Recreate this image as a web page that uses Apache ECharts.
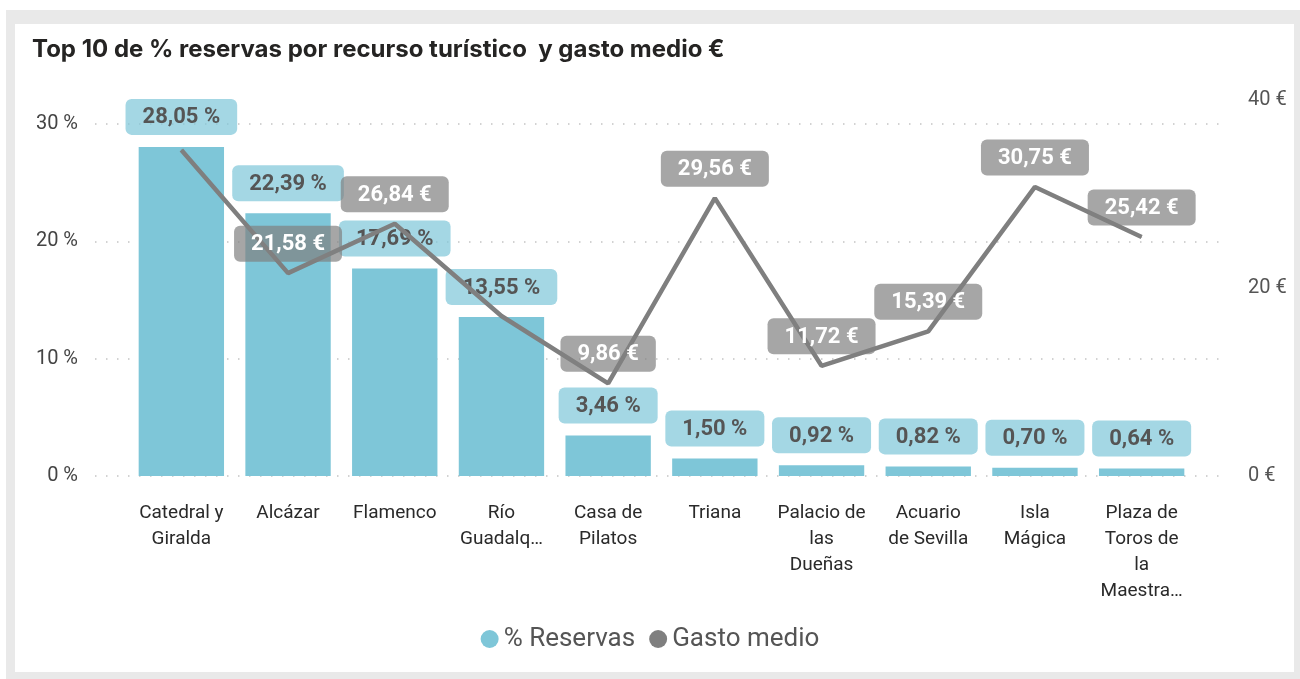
<!DOCTYPE html>
<html>
<head>
<meta charset="utf-8">
<script src="https://cdn.jsdelivr.net/npm/echarts@6/dist/echarts.min.js"></script>
<style>
  html, body { margin: 0; padding: 0; background: #fff; }
  #frame { position: absolute; left: 6px; top: 10px; width: 1294px; height: 669px; background: #e9e9e9; }
  #panel { position: absolute; left: 15px; top: 24px; width: 1279px; height: 648px; background: #fff; }
  #main { position: absolute; left: 0; top: 0; width: 1300px; height: 679px; }
</style>
</head>
<body>
<div id="frame"></div>
<div id="panel"></div>
<div id="main"></div>
<script>
// categorias (tal como se ven en el eje)
const categories = [
  'Catedral y\nGiralda', 'Alcázar', 'Flamenco', 'Río\nGuadalq…', 'Casa de\nPilatos',
  'Triana', 'Palacio de\nlas\nDueñas', 'Acuario\nde Sevilla', 'Isla\nMágica', 'Plaza de\nToros de\nla\nMaestra…'
];
// % reservas
const reservas = [28.05, 22.39, 17.69, 13.55, 3.46, 1.50, 0.92, 0.82, 0.70, 0.64];
// gasto medio €
const gasto = [34.68, 21.58, 26.84, 17.02, 9.86, 29.56, 11.72, 15.39, 30.75, 25.42];
// etiquetas de gasto ocultas (se solapan en el original)
const gastoSinEtiqueta = [0, 3];

const font = 'Roboto';
const fmt = v => v.toFixed(2).replace('.', ',');

const chart = echarts.init(document.getElementById('main'));

const option = {
  backgroundColor: 'transparent',
  title: {
    text: 'Top 10 de % reservas por recurso turístico  y gasto medio €',
    left: 32,
    top: 38,
    padding: 0,
    textStyle: { fontFamily: 'Inter', fontWeight: 'bold', fontSize: 24, color: '#252423' }
  },
  legend: {
    bottom: 22,
    left: 'center',
    icon: 'circle',
    itemWidth: 18,
    itemHeight: 18,
    itemGap: 14,
    textStyle: { fontFamily: font, fontSize: 26, color: '#555' },
    data: ['% Reservas', 'Gasto medio']
  },
  grid: [
    // marco de lineas de rejilla (mas ancho que la zona de barras)
    { left: 95, right: 78, top: 124, bottom: 203 },
    // barras
    { left: 128, right: 105, top: 124, bottom: 203 },
    // linea
    { left: 128, right: 105, top: 100, bottom: 203 }
  ],
  xAxis: [
    { gridIndex: 0, type: 'value', min: 0, max: 1, show: false },
    {
      gridIndex: 1,
      type: 'category',
      data: categories,
      axisLine: { show: false },
      axisTick: { show: false },
      axisLabel: {
        interval: 0,
        margin: 24,
        fontFamily: font,
        fontSize: 19,
        lineHeight: 26,
        color: '#2a2a2a'
      }
    },
    { gridIndex: 2, type: 'category', data: categories, show: false }
  ],
  yAxis: [
    {
      gridIndex: 0,
      type: 'value',
      min: 0,
      max: 30,
      interval: 10,
      axisLine: { show: false },
      axisTick: { show: false },
      axisLabel: {
        margin: 17,
        fontFamily: font,
        fontSize: 20,
        color: '#444',
        padding: [3, 0, 0, 0],
        formatter: v => v + ' %'
      },
      splitLine: {
        show: true,
        lineStyle: { color: '#c4c4c4', width: 1.5, type: [1.5, 9.5] }
      }
    },
    { gridIndex: 1, type: 'value', min: 0, max: 30, show: false },
    {
      gridIndex: 2,
      type: 'value',
      position: 'right',
      min: 0,
      max: 40,
      interval: 20,
      axisLine: { show: false },
      axisTick: { show: false },
      splitLine: { show: false },
      axisLabel: {
        margin: 53,
        fontFamily: font,
        fontSize: 20,
        color: '#555',
        padding: [4, 0, 0, 0],
        formatter: v => v + ' €'
      }
    }
  ],
  series: [
    {
      name: '% Reservas',
      type: 'bar',
      xAxisIndex: 1,
      yAxisIndex: 1,
      barWidth: '80%',
      itemStyle: { color: '#7ec6d8' },
      label: {
        show: true,
        position: 'top',
        distance: 12,
        fontFamily: font,
        fontWeight: 'bold',
        fontSize: 22,
        color: '#555',
        backgroundColor: 'rgba(126,198,216,0.7)',
        borderRadius: 6,
        padding: [8, 17, 6, 17],
        formatter: p => fmt(p.value) + ' %'
      },
      data: reservas
    },
    {
      name: 'Gasto medio',
      type: 'line',
      xAxisIndex: 2,
      yAxisIndex: 2,
      symbol: 'circle',
      symbolSize: 1,
      showSymbol: true,
      lineStyle: { color: '#7f7f7f', width: 4.5 },
      itemStyle: { color: '#7f7f7f' },
      label: {
        show: true,
        position: 'top',
        distance: 11,
        fontFamily: font,
        fontWeight: 'bold',
        fontSize: 22,
        color: '#fff',
        backgroundColor: 'rgba(128,128,128,0.7)',
        borderRadius: 6,
        padding: [8, 17, 6, 17],
        formatter: p => fmt(p.value) + ' €'
      },
      data: gasto.map((v, i) =>
        gastoSinEtiqueta.includes(i) ? { value: v, label: { show: false } } : v)
    }
  ]
};

chart.setOption(option);
</script>
</body>
</html>
